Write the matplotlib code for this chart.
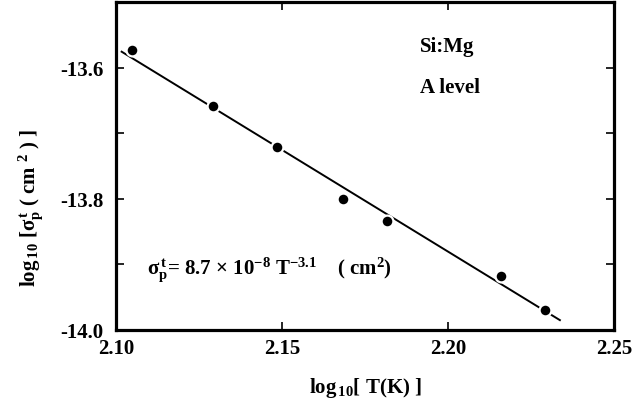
import matplotlib
matplotlib.use('agg')

import numpy as np
import matplotlib.pyplot as plt

# measured points, log10 T(K) vs log10 sigma_p^t (cm^2)
log_t = [2.1047, 2.1293, 2.1486, 2.1685, 2.1817, 2.2159, 2.2292]
log_sigma = [-13.573, -13.658, -13.721, -13.800, -13.834, -13.917, -13.969]

# fit: sigma = 8.7e-8 * T^-3.1
fit_prefactor = 8.7e-8
fit_exponent = -3.1
fit_range = [2.1017, 2.2337]

x_ticks = [2.10, 2.15, 2.20, 2.25]
x_ticklabels = ['2.10', '2.15', '2.20', '2.25']
y_ticks = [-14.0, -13.8, -13.6]
y_ticklabels = ['-14.0', '-13.8', '-13.6']
y_minor = [-13.9, -13.7]

plt.rcParams['font.family'] = 'Liberation Serif'
plt.rcParams['font.weight'] = 'bold'
plt.rcParams['axes.labelweight'] = 'bold'
plt.rcParams['mathtext.fontset'] = 'custom'
plt.rcParams['mathtext.rm'] = 'Liberation Serif:bold'
plt.rcParams['mathtext.it'] = 'Liberation Serif'
plt.rcParams['mathtext.bf'] = 'Liberation Serif:bold'

W, H = 635, 406
fig = plt.figure(figsize=(W / 100, H / 100), dpi=100)
ax = fig.add_axes([116 / W, 75 / H, 498 / W, 328 / H])

fx = np.array(fit_range)
fy = np.log10(fit_prefactor) + fit_exponent * fx
ax.plot(fx, fy, color='black', lw=1.4, zorder=2)
ax.plot(log_t, log_sigma, 'o', color='black', ms=8.5,
        mec='white', mew=1.6, zorder=3, clip_on=False)

ax.set_xlim(2.10, 2.25)
ax.set_ylim(-14.0, -13.5)
ax.set_xticks(x_ticks)
ax.set_xticklabels(x_ticklabels)
ax.set_yticks(y_ticks)
ax.set_yticklabels(y_ticklabels)
ax.set_yticks(y_minor, minor=True)

for s in ax.spines.values():
    s.set_linewidth(2.3)
ax.tick_params(which='both', direction='in', top=True, right=True,
               labelsize=15, width=1.2, length=6)
ax.tick_params(axis='x', pad=6)
ax.tick_params(axis='y', pad=9)


def put(x, y, s, **kw):
    fig.text(x / W, 1 - y / H, s, va='center', **kw)


put(420, 47, 'Si:Mg', fontsize=15)
put(420, 88, 'A level', fontsize=15)
put(147, 270,
    r'$\mathrm{\sigma}_{\mathrm{p}}^{\,\mathrm{t}}$= 8.7 $\times$ 10$^{-8}$ T$^{-3.1}$    ( cm$^{2}$)',
    fontsize=15)

ax.set_xlabel(r'log$_{\,10}$[ T(K) ]', fontsize=15, labelpad=12)
put(31, 208, r'log$_{\,10}$ [$\mathrm{\sigma}_{\mathrm{p}}^{\,\mathrm{t}}$ ( cm $^{2}$ ) ]',
    fontsize=15, rotation=90, ha='center', fontweight='bold')

fig.savefig('out.png', dpi=100)
